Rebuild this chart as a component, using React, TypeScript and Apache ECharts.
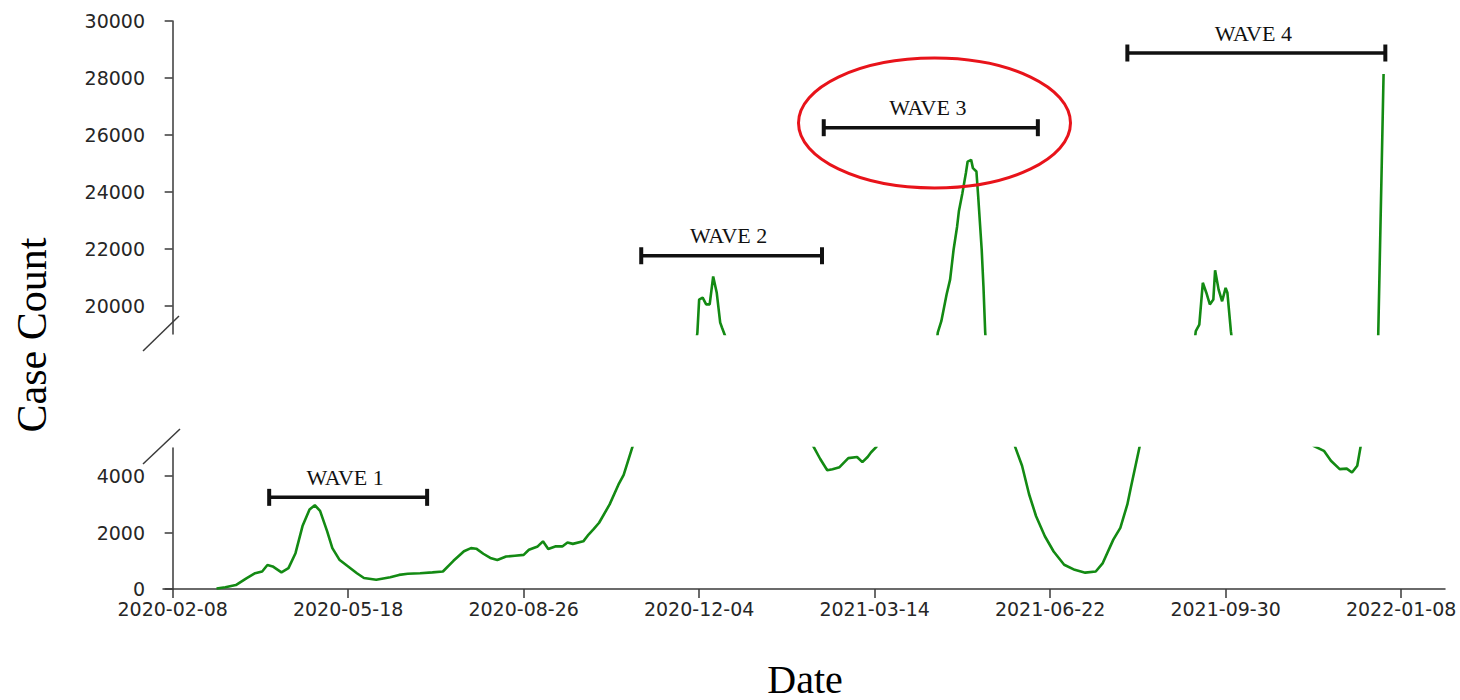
import React, { useEffect, useRef } from "react";
import * as echarts from "echarts";

// ---------- data ----------
const START = "2020-02-08";
const tickLabels = ["2020-02-08", "2020-05-18", "2020-08-26", "2020-12-04", "2021-03-14", "2021-06-22", "2021-09-30", "2022-01-08"];
const topTicks = [20000, 22000, 24000, 26000, 28000, 30000];
const bottomTicks = [0, 2000, 4000];

const dates = [
  "2020-03-04", "2020-03-09", "2020-03-15", "2020-03-21", "2020-03-26", "2020-03-30", "2020-04-02", "2020-04-05",
  "2020-04-10", "2020-04-14", "2020-04-18", "2020-04-22", "2020-04-26", "2020-04-29", "2020-05-02", "2020-05-06",
  "2020-05-09", "2020-05-13", "2020-05-18", "2020-05-23", "2020-05-27", "2020-06-03", "2020-06-11", "2020-06-16",
  "2020-06-21", "2020-06-28", "2020-07-05", "2020-07-11", "2020-07-17", "2020-07-23", "2020-07-27", "2020-07-30",
  "2020-08-03", "2020-08-07", "2020-08-11", "2020-08-16", "2020-08-21", "2020-08-26", "2020-08-29", "2020-09-03",
  "2020-09-06", "2020-09-09", "2020-09-13", "2020-09-17", "2020-09-20", "2020-09-23", "2020-09-29", "2020-10-02",
  "2020-10-05", "2020-10-08", "2020-10-14", "2020-10-19", "2020-10-22", "2020-10-27", "2020-11-05", "2020-11-16",
  "2020-11-26", "2020-12-03", "2020-12-04", "2020-12-06", "2020-12-08", "2020-12-10", "2020-12-12", "2020-12-14",
  "2020-12-16", "2020-12-17", "2020-12-19", "2020-12-26", "2021-01-05", "2021-01-20", "2021-01-30", "2021-02-07",
  "2021-02-11", "2021-02-15", "2021-02-18", "2021-02-22", "2021-02-27", "2021-03-04", "2021-03-07", "2021-03-10",
  "2021-03-12", "2021-03-15", "2021-03-26", "2021-04-05", "2021-04-13", "2021-04-19", "2021-04-21", "2021-04-24",
  "2021-04-26", "2021-04-28", "2021-04-30", "2021-05-01", "2021-05-03", "2021-05-05", "2021-05-06", "2021-05-08",
  "2021-05-09", "2021-05-11", "2021-05-12", "2021-05-14", "2021-05-15", "2021-05-16", "2021-05-22", "2021-05-28",
  "2021-06-02", "2021-06-06", "2021-06-10", "2021-06-14", "2021-06-19", "2021-06-24", "2021-06-30", "2021-07-06",
  "2021-07-12", "2021-07-18", "2021-07-22", "2021-07-28", "2021-08-01", "2021-08-05", "2021-08-07", "2021-08-12",
  "2021-08-22", "2021-09-01", "2021-09-08", "2021-09-13", "2021-09-15", "2021-09-17", "2021-09-19", "2021-09-21",
  "2021-09-23", "2021-09-24", "2021-09-26", "2021-09-28", "2021-09-30", "2021-10-01", "2021-10-03", "2021-10-13",
  "2021-10-28", "2021-11-11", "2021-11-19", "2021-11-25", "2021-11-29", "2021-12-04", "2021-12-08", "2021-12-11",
  "2021-12-14", "2021-12-16", "2021-12-19", "2021-12-22", "2021-12-25", "2021-12-26", "2021-12-27", "2021-12-28",
  "2021-12-29",
];

const cases = [
  20, 60, 140, 380, 560, 620, 850, 800,
  590, 740, 1270, 2230, 2820, 2970, 2770, 2050,
  1450, 1040, 800, 560, 390, 330, 420, 500,
  540, 560, 590, 620, 1000, 1340, 1450, 1430,
  1250, 1100, 1030, 1150, 1180, 1210, 1390, 1510,
  1690, 1420, 1510, 1510, 1650, 1600, 1690, 1930,
  2130, 2350, 3000, 3700, 4050, 5040, 7500, 11500,
  16000, 19050, 20210, 20280, 20040, 20040, 21020, 20460,
  19400, 19230, 18900, 15500, 10500, 7000, 5800, 5070,
  4610, 4210, 4250, 4320, 4640, 4680, 4500, 4680,
  4850, 5040, 8000, 12000, 16000, 19060, 19450, 20390,
  20910, 21970, 22780, 23310, 23950, 24660, 25060, 25120,
  24830, 24710, 23840, 21970, 20680, 19060, 14000, 9000,
  5050, 4370, 3360, 2580, 1870, 1330, 860, 680,
  580, 620, 920, 1750, 2170, 3000, 3600, 5050,
  8500, 13000, 16500, 19100, 19330, 20800, 20450, 20040,
  20210, 21240, 20560, 20150, 20620, 20450, 19100, 14000,
  9000, 6200, 5080, 4900, 4550, 4250, 4270, 4130,
  4370, 5080, 7000, 10000, 16000, 19100, 22100, 25100,
  28140,
];

const waveNames = ["WAVE 1", "WAVE 2", "WAVE 3", "WAVE 4"];
const waveStart = ["2020-04-03", "2020-11-01", "2021-02-13", "2021-08-05"];
const waveEnd = ["2020-07-02", "2021-02-12", "2021-06-15", "2021-12-30"];
const waveLevel = [3250, 21750, 26250, 28875];
const wavePanel = ["bottom", "top", "top", "top"];

// ---------- helpers ----------
const DAY = 86400000;
const t0 = Date.parse(START);
const dayOf = (s: string) => Math.round((Date.parse(s) - t0) / DAY);
const dateOf = (d: number) => new Date(t0 + Math.round(d) * DAY).toISOString().slice(0, 10);

const GRID_LEFT = 163;
const GRID_WIDTH = 1282;
const TOP_Y = 21;
const TOP_H = 313;
const BOT_Y = 448;
const BOT_H = 141;
const X_MIN = -5.5;
const X_MAX = 725;

const AXIS_COLOR = "#3a3a3a";
const LABEL_COLOR = "#262626";
const LINE_COLOR = "#138a13";
const SERIF = '"Liberation Serif", "Times New Roman", serif';

function makeBrackets(panel: string, axisIndex: number) {
  const idx = waveNames.map((_, i) => i).filter((i) => wavePanel[i] === panel);
  return {
    type: "custom",
    xAxisIndex: axisIndex,
    yAxisIndex: axisIndex,
    clip: false,
    silent: true,
    z: 5,
    data: idx.map((i) => [dayOf(waveStart[i]), dayOf(waveEnd[i]), waveLevel[i]]),
    renderItem: (params: any, api: any) => {
      const a = api.coord([api.value(0), api.value(2)]);
      const b = api.coord([api.value(1), api.value(2)]);
      const name = waveNames[idx[params.dataIndex]];
      return {
        type: "group",
        children: [
          { type: "line", shape: { x1: a[0], y1: a[1], x2: b[0], y2: b[1] }, style: { stroke: "#111", lineWidth: 3.5 } },
          { type: "line", shape: { x1: a[0], y1: a[1] - 8.5, x2: a[0], y2: a[1] + 8.5 }, style: { stroke: "#111", lineWidth: 4 } },
          { type: "line", shape: { x1: b[0], y1: b[1] - 8.5, x2: b[0], y2: b[1] + 8.5 }, style: { stroke: "#111", lineWidth: 4 } },
          {
            type: "text",
            x: (a[0] + b[0]) / 2 - 3,
            y: a[1] - 20,
            style: { text: name, fill: "#111", fontSize: 22, fontFamily: SERIF, align: "center", verticalAlign: "middle" },
          },
        ],
      };
    },
  };
}

export default function App() {
  const ref = useRef<HTMLDivElement>(null);

  useEffect(() => {
    if (!ref.current) return;
    const chart = echarts.init(ref.current, null, { renderer: "svg" });
    const points = dates.map((d, i) => [dayOf(d), cases[i]]);
    const tickDays = tickLabels.map(dayOf);

    const labelStyle = { color: LABEL_COLOR, fontFamily: '"DejaVu Sans", sans-serif', fontSize: 19 };
    const axisLine = { show: true, lineStyle: { color: AXIS_COLOR, width: 1.5 } };
    const plain = (v: number) => String(Math.round(v));

    chart.setOption({
      animation: false,
      backgroundColor: "#ffffff",
      grid: [
        { left: GRID_LEFT, top: TOP_Y, width: GRID_WIDTH, height: TOP_H },
        { left: GRID_LEFT, top: BOT_Y, width: GRID_WIDTH, height: BOT_H },
      ],
      xAxis: [
        { type: "value", gridIndex: 0, min: X_MIN, max: X_MAX, show: false },
        {
          type: "value",
          gridIndex: 1,
          min: X_MIN,
          max: X_MAX,
          axisLine,
          splitLine: { show: false },
          axisTick: { show: true, length: 9, customValues: tickDays, lineStyle: { color: AXIS_COLOR, width: 1.5 } },
          axisLabel: { ...labelStyle, margin: 10, customValues: tickDays, formatter: (v: number) => dateOf(v) },
        },
      ],
      yAxis: [
        {
          type: "value",
          gridIndex: 0,
          min: 19000,
          max: 30000,
          axisLine,
          splitLine: { show: false },
          axisTick: { show: true, length: 8, customValues: topTicks, lineStyle: { color: AXIS_COLOR, width: 1.5 } },
          axisLabel: { ...labelStyle, margin: 18, customValues: topTicks, formatter: plain },
        },
        {
          type: "value",
          gridIndex: 1,
          min: 0,
          max: 5000,
          axisLine,
          splitLine: { show: false },
          axisTick: { show: true, length: 8, customValues: bottomTicks, lineStyle: { color: AXIS_COLOR, width: 1.5 } },
          axisLabel: { ...labelStyle, margin: 18, customValues: bottomTicks, formatter: plain },
        },
      ],
      series: [
        {
          type: "line",
          xAxisIndex: 0,
          yAxisIndex: 0,
          data: points,
          showSymbol: false,
          clip: true,
          lineStyle: { color: LINE_COLOR, width: 2.6 },
        },
        {
          type: "line",
          xAxisIndex: 1,
          yAxisIndex: 1,
          data: points,
          showSymbol: false,
          clip: true,
          lineStyle: { color: LINE_COLOR, width: 2.6 },
        },
        makeBrackets("top", 0),
        makeBrackets("bottom", 1),
      ],
      graphic: [
        // broken-axis marks
        { type: "line", shape: { x1: GRID_LEFT - 20, y1: TOP_Y + TOP_H + 17, x2: GRID_LEFT + 16, y2: TOP_Y + TOP_H - 18 }, style: { stroke: AXIS_COLOR, lineWidth: 1.5 } },
        { type: "line", shape: { x1: GRID_LEFT - 20, y1: BOT_Y + 16, x2: GRID_LEFT + 17, y2: BOT_Y - 19 }, style: { stroke: AXIS_COLOR, lineWidth: 1.5 } },
        // highlight ellipse
        { type: "ellipse", shape: { cx: 934.5, cy: 123, rx: 136, ry: 65 }, style: { fill: "none", stroke: "#e8131a", lineWidth: 3 }, z: 10 },
        // axis titles
        {
          type: "text",
          x: 32,
          y: 335,
          rotation: Math.PI / 2,
          style: { text: "Case Count", fill: "#000", fontSize: 42, fontFamily: SERIF, align: "center", verticalAlign: "middle" },
        },
        {
          type: "text",
          x: 805,
          y: 679,
          style: { text: "Date", fill: "#000", fontSize: 40, fontFamily: SERIF, align: "center", verticalAlign: "middle" },
        },
      ],
    });

    return () => chart.dispose();
  }, []);

  return (
    <div
      ref={ref}
      style={{ position: "fixed", left: 0, top: 0, width: 1460, height: 700, background: "#fff" }}
    />
  );
}
